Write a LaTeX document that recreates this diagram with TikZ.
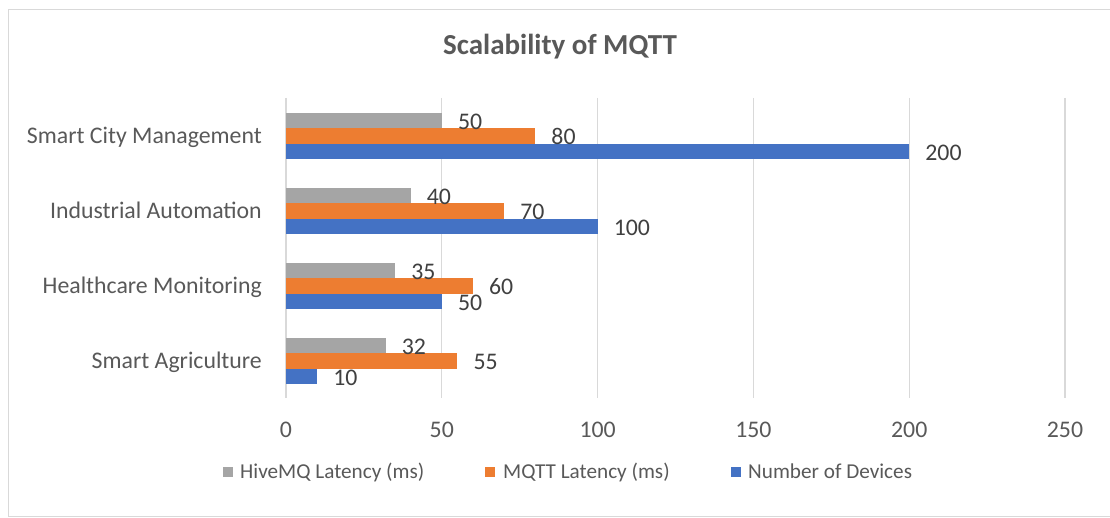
\documentclass[tikz,border=0pt]{standalone}
\usepackage{fontspec}
\setmainfont{Carlito}
\definecolor{txt}{HTML}{595959}
\definecolor{valtxt}{HTML}{404040}
\definecolor{gridc}{HTML}{D9D9D9}
\definecolor{hivec}{HTML}{A5A5A5}
\definecolor{mqttc}{HTML}{ED7D31}
\definecolor{devc}{HTML}{4472C4}
\begin{document}
\begin{tikzpicture}[x=1pt,y=-1pt,
  lbl/.style={inner sep=0pt, text=txt, font=\fontsize{23.8}{28}\selectfont},
  val/.style={inner sep=0pt, text=valtxt, font=\fontsize{23.8}{28}\selectfont, anchor=base west},
  leg/.style={inner sep=0pt, text=txt, font=\fontsize{21.2}{25}\selectfont, anchor=base west},
  ttl/.style={inner sep=0pt, text=txt, font=\fontsize{29}{33}\selectfont\bfseries, anchor=base},
  gridline/.style={draw=gridc, line width=1.3pt},
  frame/.style={draw=gridc, line width=1pt}]
\useasboundingbox (0,0) rectangle (1110,518);
\fill[white] (0,0) rectangle (1110,518);
\draw[frame] (8.5,9.5) rectangle (1130,516.7);
\node[ttl] (title) at (560,55) {Scalability of MQTT};
% grid and axis labels
\foreach \v [count=\k] in {0,50,100,150,200,250}{
  \draw[gridline] (286+3.116*\v,98) -- (286+3.116*\v,398);
  \node[lbl, anchor=base] (tick\k) at (286+3.116*\v,437.3) {\v};
}
% bars
\foreach \name/\c/\h/\m/\d [count=\i] in {Smart City Management/136/50/80/200,
    Industrial Automation/211/40/70/100,
    Healthcare Monitoring/286/35/60/50,
    Smart Agriculture/361/32/55/10}{
  \node[lbl, anchor=base east] (cat\i) at (262,\c+7.3) {\name};
  \fill[hivec] (286,\c-23.3) rectangle (286+3.116*\h,\c-7.8);
  \fill[mqttc] (286,\c-7.8) rectangle (286+3.116*\m,\c+7.8);
  \fill[devc] (286,\c+7.8) rectangle (286+3.116*\d,\c+23.3);
  \node[val] (hv\i) at (286+3.116*\h+16,\c-15.5+8.7) {\h};
  \node[val] (mq\i) at (286+3.116*\m+16,\c+8.7) {\m};
  \node[val] (dv\i) at (286+3.116*\d+16,\c+15.5+8.7) {\d};
}
% legend
\fill[hivec] (223.3,467.3) rectangle (232.8,476.8);
\node[leg] (leg1) at (240,478) {HiveMQ Latency (ms)};
\fill[mqttc] (485.3,467.3) rectangle (494.8,476.8);
\node[leg] (leg2) at (503,478) {MQTT Latency (ms)};
\fill[devc] (731.3,467.3) rectangle (740.8,476.8);
\node[leg] (leg3) at (748,478) {Number of Devices};
\end{tikzpicture}
\end{document}
